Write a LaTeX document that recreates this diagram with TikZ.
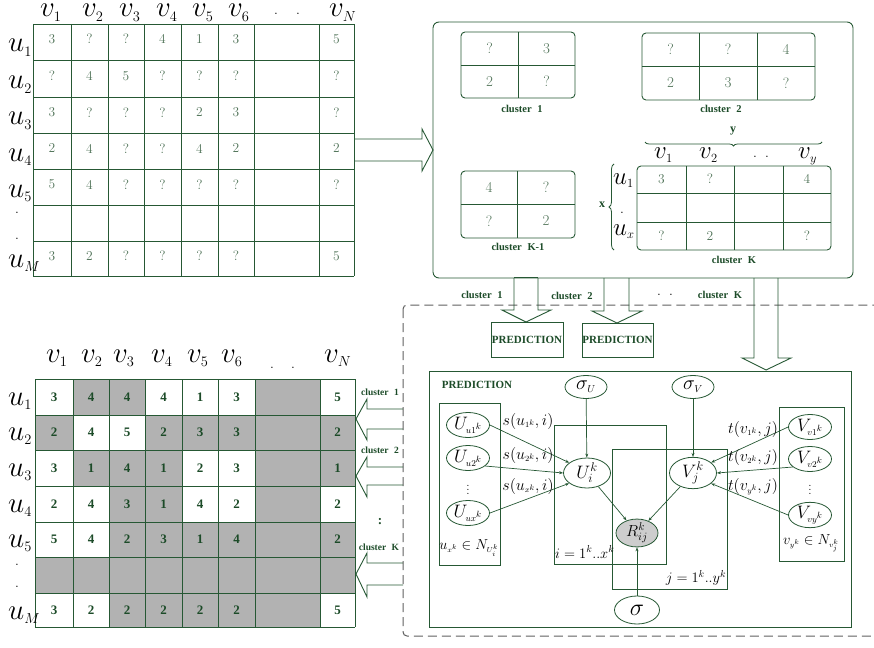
\RequirePackage{fix-cm}
\documentclass[tikz,border=0pt]{standalone}
\usepackage{fontspec}
\newfontfamily\tms{Liberation Serif}
\usetikzlibrary{shapes.geometric,decorations.pathreplacing,arrows.meta}
\definecolor{grn}{RGB}{38,88,52}
\definecolor{cellg}{RGB}{80,115,88}
\definecolor{boldg}{RGB}{28,75,40}
\definecolor{shd}{RGB}{178,178,178}
\definecolor{rgray}{RGB}{205,205,205}
\definecolor{dgray}{RGB}{95,95,95}
\def\bx{{35,73,109,145,182,218,255,320,355}}
\def\by{{379,415,450,486,522,557,593,627}}
\newcommand\rowA[9]{%
  \node[cA] at (52,#1) {#2};\node[cA] at (89.5,#1) {#3};\node[cA] at (126,#1) {#4};
  \node[cA] at (162.5,#1) {#5};\node[cA] at (199.5,#1) {#6};\node[cA] at (236,#1) {#7};
  \node[cA] at (286.5,#1) {#8};\node[cA] at (336.5,#1) {#9};}
\newcommand\rowB[9]{%
  \node[cB] at (54,#1) {#2};\node[cB] at (91,#1) {#3};\node[cB] at (127,#1) {#4};
  \node[cB] at (163.5,#1) {#5};\node[cB] at (200,#1) {#6};\node[cB] at (236.5,#1) {#7};
  \node[cB] at (287.5,#1) {#8};\node[cB] at (337.5,#1) {#9};}
\begin{document}
\begin{tikzpicture}[x=1pt,y=-1pt,
  line/.style={draw=grn, line width=0.9pt},
  cA/.style={inner sep=0, text=cellg, font=\fontsize{13.5}{14}\selectfont},
  cB/.style={inner sep=0, text=boldg, font=\tms\bfseries\fontsize{13}{14}\selectfont},
  cC/.style={inner sep=0, text=cellg, font=\fontsize{15}{16}\selectfont},
  hl/.style={inner sep=0, anchor=base west, font=\fontsize{29}{30}\selectfont},
  hk/.style={inner sep=0, anchor=base west, font=\fontsize{25}{26}\selectfont},
  dt/.style={inner sep=0, font=\fontsize{14}{14}\selectfont},
  bl/.style={inner sep=0, text=boldg, font=\tms\bfseries\fontsize{10.5}{11}\selectfont},
  pr/.style={inner sep=0, text=boldg, font=\tms\bfseries\fontsize{11}{12}\selectfont},
  el/.style={ellipse, draw=grn, fill=white, line width=0.8pt, inner sep=0, minimum width=43pt, minimum height=25pt, font=\fontsize{18}{20}\selectfont},
  ed/.style={draw=grn, line width=0.7pt, -{Stealth[length=4pt,width=3pt]}},
  ml/.style={inner sep=0, font=\fontsize{16}{18}\selectfont},
  plt/.style={inner sep=0, font=\fontsize{14.5}{16}\selectfont},
  plate/.style={draw=grn, line width=0.8pt},
  warrow/.style={draw=grn, line width=0.9pt, line join=miter}
]
\useasboundingbox (0,0) rectangle (874,647);

% ---------------- dashed region ----------------
\draw[dgray, line width=1pt, dash pattern=on 9pt off 5pt, rounded corners=4pt] (403,305) rectangle (890,636);

% ---------------- top-left matrix ----------------
\foreach \x in {33,71,108,144,181,218,254,319,354} \draw[line] (\x,24) -- (\x,276);
\foreach \y in {24,60,97,133,169,205,241,276} \draw[line] (33,\y) -- (354,\y);
\rowA{39}{3}{?}{?}{4}{1}{3}{}{5}
\rowA{76}{?}{4}{5}{?}{?}{?}{}{?}
\rowA{112.5}{3}{?}{?}{?}{2}{3}{}{?}
\rowA{148.5}{2}{4}{?}{?}{4}{2}{}{2}
\rowA{184.5}{5}{4}{?}{?}{?}{?}{}{?}
\rowA{256}{3}{2}{?}{?}{?}{?}{}{5}
\node[hl] at (40,17) {$v_{\scriptscriptstyle 1}$};
\node[hl] at (82,17) {$v_{\scriptscriptstyle 2}$};
\node[hl] at (119,17) {$v_{\scriptscriptstyle 3}$};
\node[hl] at (156,17) {$v_{\scriptscriptstyle 4}$};
\node[hl] at (192,17) {$v_{\scriptscriptstyle 5}$};
\node[hl] at (228,17) {$v_{\scriptscriptstyle 6}$};
\node[hl] at (329,17) {$v_{\scriptscriptstyle N}$};
\node[dt] at (276,14) {.};\node[dt] at (298,14) {.};
\node[hl] at (8,52) {$u_{\scriptscriptstyle 1}$};
\node[hl] at (8,89) {$u_{\scriptscriptstyle 2}$};
\node[hl] at (8,125) {$u_{\scriptscriptstyle 3}$};
\node[hl] at (8,161) {$u_{\scriptscriptstyle 4}$};
\node[hl] at (8,197) {$u_{\scriptscriptstyle 5}$};
\node[hl] at (8,267) {$u_{\scriptscriptstyle M}$};
\node[dt] at (17,213) {.};\node[dt] at (17,239) {.};

% wide arrow to cluster box
\draw[warrow] (355,139) -- (422,139) -- (422,129) -- (433,150) -- (422,171) -- (422,161) -- (355,161);

% ---------------- cluster box ----------------
\draw[line, rounded corners=6pt] (433,22) rectangle (853,278);
% cluster 1
\draw[line, rounded corners=4pt] (461,32) rectangle (575,98);
\draw[line] (518,32) -- (518,98) (461,65) -- (575,65);
\node[cC] at (489.5,48.5) {?};\node[cC] at (546.5,48.5) {3};
\node[cC] at (489.5,81.5) {2};\node[cC] at (546.5,81.5) {?};
\node[bl] at (522,109) {cluster\hspace{3pt} 1};
% cluster 2
\draw[line, rounded corners=4pt] (642,33) rectangle (815,100);
\draw[line] (699,33) -- (699,100) (757,33) -- (757,100) (642,66) -- (815,66);
\node[cC] at (670.5,49.5) {?};\node[cC] at (728,49.5) {?};\node[cC] at (786,49.5) {4};
\node[cC] at (670.5,83) {2};\node[cC] at (728,83) {3};\node[cC] at (786,83) {?};
\node[bl] at (721,109) {cluster\hspace{3pt} 2};
% cluster K-1
\draw[line, rounded corners=4pt] (461,171) rectangle (575,238);
\draw[line] (517,171) -- (517,238) (461,204) -- (575,204);
\node[cC] at (489,187.5) {4};\node[cC] at (546,187.5) {?};
\node[cC] at (489,221) {?};\node[cC] at (546,221) {2};
\node[bl] at (518,247) {cluster\hspace{3pt} K-1};
% cluster K
\draw[line, rounded corners=4pt] (637,166) rectangle (831,250);
\draw[line] (686,166) -- (686,250) (734,166) -- (734,250) (783,166) -- (783,250)
            (637,193) -- (831,193) (637,222) -- (831,222);
\node[cA] at (661.5,179) {3};\node[cA] at (710,179) {?};\node[cA] at (807,179) {4};
\node[cA] at (661.5,236) {?};\node[cA] at (710,236) {2};\node[cA] at (807,236) {?};
\node[bl] at (734,260) {cluster\hspace{3pt} K};
\draw[line, line width=0.8pt, decorate, decoration={brace, amplitude=4pt, mirror}] (645,142) -- (822,142);
\node[bl, font=\tms\bfseries\fontsize{12}{12}\selectfont] at (733,131) {y};
\draw[line, line width=0.8pt, decorate, decoration={brace, amplitude=5pt}] (614,250) -- (614,164);
\node[bl, font=\tms\bfseries\fontsize{12}{12}\selectfont] at (602,205) {x};
\node[hk] at (654,159) {$v_{\scriptscriptstyle 1}$};
\node[hk] at (699,159) {$v_{\scriptscriptstyle 2}$};
\node[hk] at (798,159) {$v_{\scriptscriptstyle y}$};
\node[dt] at (755,157) {.};\node[dt] at (767,157) {.};
\node[hk] at (613,184) {$u_{\scriptscriptstyle 1}$};
\node[dt] at (622,213) {.};
\node[hk] at (613,235) {$u_{\scriptscriptstyle x}$};

% ---------------- arrows down ----------------
\draw[warrow] (514,277) -- (538,277);
\draw[warrow] (514,278) -- (514,310) -- (502,310) -- (526,322) -- (551,310) -- (538,310) -- (538,278);
\draw[warrow] (604,278) -- (604,311) -- (592,311) -- (617,323) -- (642,311) -- (629,311) -- (629,278);
\draw[warrow] (754,278) -- (754,358) -- (742,358) -- (766,370) -- (791,358) -- (778,358) -- (778,278);
\node[bl] at (482,295) {cluster\hspace{3pt} 1};
\node[bl] at (572,296) {cluster\hspace{3pt} 2};
\node[dt] at (659,295) {.};\node[dt] at (671,295) {.};
\node[bl] at (720,295) {cluster\hspace{3pt} K};
\node[pr, draw=grn, line width=0.9pt, minimum width=72pt, minimum height=35pt] (P1) at (527,339.5) {PREDICTION};
\node[pr, draw=grn, line width=0.9pt, minimum width=71pt, minimum height=34pt] (P2) at (617.5,340) {PREDICTION};

% ---------------- bottom-left matrix ----------------
\foreach \r/\cs in {1/{2,3,7}, 2/{1,4,5,6,7,8}, 3/{2,3,4,7,8}, 4/{3,4,7}, 5/{3,4,5,6,7,8}, 6/{1,2,3,4,5,6,7,8}, 7/{3,4,5,6,7}} {
  \foreach \c in \cs {
    \pgfmathsetmacro\xl{\bx[\c-1]}\pgfmathsetmacro\xr{\bx[\c]}
    \pgfmathsetmacro\yt{\by[\r-1]}\pgfmathsetmacro\yb{\by[\r]}
    \fill[shd] (\xl,\yt) rectangle (\xr,\yb);
  }
}
\foreach \x in {35,73,109,145,182,218,255,320,355} \draw[line] (\x,379) -- (\x,627);
\foreach \y in {379,415,450,486,522,557,593,627} \draw[line] (35,\y) -- (355,\y);
\rowB{397}{3}{4}{4}{4}{1}{3}{}{5}
\rowB{432.5}{2}{4}{5}{2}{3}{3}{}{2}
\rowB{468}{3}{1}{4}{1}{2}{3}{}{1}
\rowB{504}{2}{4}{3}{1}{4}{2}{}{2}
\rowB{539.5}{5}{4}{2}{3}{1}{4}{}{2}
\rowB{610}{3}{2}{2}{2}{2}{2}{}{5}
\node[hl] at (46,362) {$v_{\scriptscriptstyle 1}$};
\node[hl] at (81,362) {$v_{\scriptscriptstyle 2}$};
\node[hl] at (113,362) {$v_{\scriptscriptstyle 3}$};
\node[hl] at (151,362) {$v_{\scriptscriptstyle 4}$};
\node[hl] at (187,362) {$v_{\scriptscriptstyle 5}$};
\node[hl] at (221,362) {$v_{\scriptscriptstyle 6}$};
\node[hl] at (324,362) {$v_{\scriptscriptstyle N}$};
\node[dt] at (272,368) {.};\node[dt] at (293,368) {.};
\node[hl] at (8,405) {$u_{\scriptscriptstyle 1}$};
\node[hl] at (8,440) {$u_{\scriptscriptstyle 2}$};
\node[hl] at (8,476) {$u_{\scriptscriptstyle 3}$};
\node[hl] at (8,512) {$u_{\scriptscriptstyle 4}$};
\node[hl] at (8,547) {$u_{\scriptscriptstyle 5}$};
\node[hl] at (8,619) {$u_{\scriptscriptstyle M}$};
\node[dt] at (17,565) {.};\node[dt] at (17,587) {.};

% left arrows
\draw[warrow] (403,409) -- (367,409) -- (367,399) -- (356,419) -- (367,440) -- (367,429) -- (403,429);
\draw[warrow] (403,467) -- (367,467) -- (367,457) -- (356,476) -- (367,497) -- (367,485) -- (403,485);
\draw[warrow] (403,563) -- (367,563) -- (367,553) -- (356,574) -- (367,597) -- (367,585) -- (403,585);
\node[bl, font=\tms\bfseries\fontsize{9.5}{10}\selectfont] at (380,392) {cluster\hspace{3pt} 1};
\node[bl, font=\tms\bfseries\fontsize{9.5}{10}\selectfont] at (380,450) {cluster\hspace{3pt} 2};
\node[bl, font=\tms\bfseries\fontsize{13}{13}\selectfont] at (380,522) {:};
\node[bl, font=\tms\bfseries\fontsize{9.5}{10}\selectfont] at (379,547) {cluster\hspace{3pt} K};

% ---------------- PMF graphical model ----------------
\draw[line] (429,371) rectangle (851,627);
\node[pr] at (477,385) {PREDICTION};
\draw[plate] (439,403) rectangle (500,565);
\draw[plate] (554,425) rectangle (666,564);
\draw[plate] (612,449) rectangle (727,589);
\draw[plate] (779,407) rectangle (844,561);

\node[el, minimum width=42pt, minimum height=23pt, font=\fontsize{20}{22}\selectfont] (sU) at (586,387) {$\sigma_{\scriptscriptstyle U}$};
\node[el, minimum width=42pt, minimum height=23pt, font=\fontsize{20}{22}\selectfont] (sV) at (693,387) {$\sigma_{\scriptscriptstyle V}$};
\node[el, minimum width=47pt, minimum height=30pt] (Ui) at (587,473) {$U^{k}_{i}$};
\node[el, minimum width=47pt, minimum height=30pt] (Vj) at (693,473) {$V^{k}_{j}$};
\node[el, fill=rgray, minimum width=42pt, minimum height=27pt, font=\fontsize{16}{18}\selectfont] (R) at (637,533) {$R^{k}_{ij}$};
\node[el, minimum width=45pt, minimum height=28pt, font=\fontsize{24}{26}\selectfont] (sig) at (637,610) {$\sigma$};
\node[el] (Uu1) at (468,425) {$U_{\scriptscriptstyle u1^k}$};
\node[el] (Uu2) at (468,458) {$U_{\scriptscriptstyle u2^k}$};
\node[el] (Uux) at (468,513) {$U_{\scriptscriptstyle ux^k}$};
\node[el] (Vv1) at (810,427) {$V_{\scriptscriptstyle v1^k}$};
\node[el] (Vv2) at (810,459) {$V_{\scriptscriptstyle v2^k}$};
\node[el] (Vvy) at (810,515) {$V_{\scriptscriptstyle vy^k}$};
\node[inner sep=0, font=\fontsize{12}{12}\selectfont] (d1) at (468,487) {$\vdots$};
\node[inner sep=0, font=\fontsize{12}{12}\selectfont] (d2) at (810,487) {$\vdots$};

\draw[ed] (Uu1.east) -- (Ui.150);
\draw[ed] (Uu2.-25) -- (Ui.west);
\draw[ed] (Uux.east) -- (Ui.210);
\draw[ed] (Vv1.west) -- (Vj.30);
\draw[ed] (Vv2.205) -- (Vj.east);
\draw[ed] (Vvy.west) -- (Vj.-30);
\draw[ed] (sU) -- (Ui);
\draw[ed] (sV) -- (Vj);
\draw[ed] (Ui) -- (R);
\draw[ed] (Vj) -- (R);
\draw[ed] (sig) -- (R);

\node[ml] at (528,421) {$s(u_{\scriptscriptstyle 1^k},i)$};
\node[ml] at (528,455) {$s(u_{\scriptscriptstyle 2^k},i)$};
\node[ml] at (528,486) {$s(u_{\scriptscriptstyle x^k},i)$};
\node[ml] at (753,429) {$t(v_{\scriptscriptstyle 1^k},j)$};
\node[ml] at (753,457) {$t(v_{\scriptscriptstyle 2^k},j)$};
\node[ml] at (753,487) {$t(v_{\scriptscriptstyle y^k},j)$};
\node[plt] at (469,548) {$u_{\scriptscriptstyle x^k}\in N_{\scriptscriptstyle U_i^k}$};
\node[plt, anchor=west] at (555,552) {$i=1^{k}..x^{k}$};
\node[plt] at (696,578) {$j=1^{k}..y^{k}$};
\node[plt] at (811,543) {$v_{\scriptscriptstyle y^k}\in N_{\scriptscriptstyle v_j^k}$};
\end{tikzpicture}
\end{document}
